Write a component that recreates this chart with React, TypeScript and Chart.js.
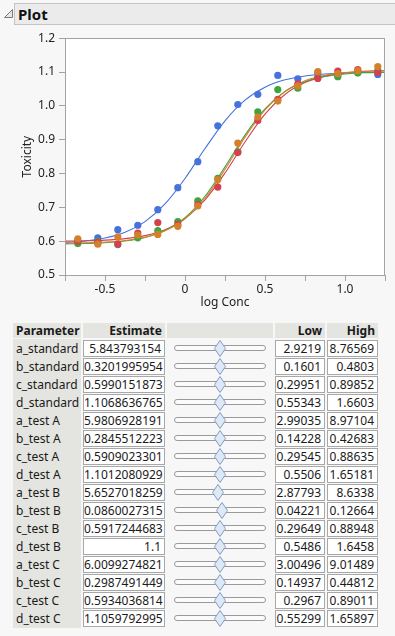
import React, { useEffect, useRef } from "react";
import { Chart, registerables } from "chart.js";
Chart.register(...registerables);

// ---------- data ----------
const doseX = [-0.67, -0.545, -0.42, -0.295, -0.17, -0.045, 0.08, 0.205, 0.33, 0.455, 0.58, 0.705, 0.83, 0.955, 1.08, 1.205];
const ptsStandard = [0.600, 0.597, 0.592, 0.624, 0.655, 0.650, 0.708, 0.760, 0.862, 0.957, 1.019, 1.065, 1.081, 1.103, 1.107, 1.099];
const ptsTestA = [0.593, 0.600, 0.590, 0.610, 0.631, 0.658, 0.719, 0.786, 0.864, 0.982, 1.048, 1.052, 1.085, 1.086, 1.097, 1.105];
const ptsTestB = [0.600, 0.610, 0.634, 0.647, 0.693, 0.758, 0.835, 0.941, 1.004, 1.034, 1.090, 1.080, 1.097, 1.090, 1.100, 1.093];
const ptsTestC = [0.607, 0.591, 0.613, 0.618, 0.620, 0.644, 0.704, 0.782, 0.890, 0.967, 1.014, 1.059, 1.101, 1.095, 1.104, 1.116];

const curveX = [-0.75, -0.625, -0.5, -0.375, -0.25, -0.125, 0, 0.125, 0.25, 0.375, 0.5, 0.625, 0.75, 0.875, 1.0, 1.125, 1.25];
const curveStandard = [0.600, 0.601, 0.603, 0.6076, 0.6165, 0.6341, 0.6668, 0.7220, 0.8016, 0.8933, 0.9753, 1.0337, 1.0688, 1.0878, 1.0975, 1.1023, 1.1047];
const curveTestA = [0.5920, 0.5931, 0.5955, 0.6006, 0.6109, 0.6315, 0.6696, 0.7328, 0.8197, 0.9134, 0.9909, 1.0423, 1.0715, 1.0867, 1.0942, 1.0979, 1.0996];
const curveTestB = [0.5962, 0.6007, 0.6096, 0.6267, 0.6579, 0.7100, 0.7853, 0.8738, 0.9559, 1.0170, 1.0553, 1.0769, 1.0884, 1.0942, 1.0971, 1.0986, 1.0993];
const curveTestC = [0.5943, 0.5954, 0.5976, 0.6022, 0.6117, 0.6307, 0.6664, 0.7269, 0.8125, 0.9075, 0.9882, 1.0428, 1.0741, 1.0904, 1.0985, 1.1024, 1.1043];

const paramNames = ["a_standard", "b_standard", "c_standard", "d_standard", "a_test A", "b_test A", "c_test A", "d_test A", "a_test B", "b_test B", "c_test B", "d_test B", "a_test C", "b_test C", "c_test C", "d_test C"];
const estimates = ["5.843793154", "0.3201995954", "0.5990151873", "1.1068636765", "5.9806928191", "0.2845512223", "0.5909023301", "1.1012080929", "5.6527018259", "0.0860027315", "0.5917244683", "1.1", "6.0099274821", "0.2987491449", "0.5934036814", "1.1059792995"];
const lows = ["2.9219", "0.1601", "0.29951", "0.55343", "2.99035", "0.14228", "0.29545", "0.5506", "2.87793", "0.04221", "0.29649", "0.5486", "3.00496", "0.14937", "0.2967", "0.55299"];
const highs = ["8.76569", "0.4803", "0.89852", "1.6603", "8.97104", "0.42683", "0.88635", "1.65181", "8.6338", "0.12664", "0.88948", "1.6458", "9.01489", "0.44812", "0.89011", "1.65897"];

const yTicksMin = 0.5;
const yTicksMax = 1.2;
const xMin = -0.75;
const xMax = 1.25;

const BLUE = "#4572DC";
const RED = "#D4404F";
const GREEN = "#3FA43F";
const ORANGE = "#D4802B";

const FONT = "'Segoe UI', 'Noto Sans', sans-serif";

function toXY(xs: number[], ys: number[]) {
  return xs.map((x, i) => ({ x, y: ys[i] }));
}

const framePlugin = {
  id: "frame",
  beforeDraw(chart: any) {
    const { ctx, chartArea } = chart;
    ctx.save();
    ctx.fillStyle = "#ffffff";
    ctx.fillRect(chartArea.left, chartArea.top, chartArea.right - chartArea.left, chartArea.bottom - chartArea.top);
    ctx.restore();
  },
  afterDraw(chart: any) {
    const { ctx, chartArea } = chart;
    ctx.save();
    ctx.strokeStyle = "#a3a3a3";
    ctx.lineWidth = 1;
    ctx.strokeRect(Math.round(chartArea.left) + 0.5, Math.round(chartArea.top) + 0.5, Math.round(chartArea.right - chartArea.left) - 1, Math.round(chartArea.bottom - chartArea.top));
    ctx.restore();
  },
};

function PlotChart() {
  const ref = useRef<HTMLCanvasElement | null>(null);
  useEffect(() => {
    if (!ref.current) return;
    const pointDs = (label: string, ys: number[], color: string) => ({
      label,
      data: toXY(doseX, ys),
      showLine: false,
      pointRadius: 3.6,
      pointBorderWidth: 0,
      pointBackgroundColor: color,
      pointBorderColor: color,
      borderColor: color,
      backgroundColor: color,
    });
    const lineDs = (label: string, ys: number[], color: string) => ({
      label,
      data: toXY(curveX, ys),
      showLine: true,
      pointRadius: 0,
      borderWidth: 1.1,
      borderColor: color,
      backgroundColor: color,
      cubicInterpolationMode: "monotone" as const,
      fill: false,
    });
    const chart = new Chart(ref.current, {
      type: "line",
      data: {
        datasets: [
          pointDs("test C", ptsTestC, ORANGE),
          pointDs("standard", ptsStandard, RED),
          pointDs("test A", ptsTestA, GREEN),
          pointDs("test B", ptsTestB, BLUE),
          lineDs("test C fit", curveTestC, ORANGE),
          lineDs("test A fit", curveTestA, GREEN),
          lineDs("standard fit", curveStandard, RED),
          lineDs("test B fit", curveTestB, BLUE),
        ] as any,
      },
      options: {
        animation: false,
        responsive: false,
        devicePixelRatio: 1,
        layout: { padding: { top: 8, right: 10, left: 0, bottom: 0 } },
        plugins: { legend: { display: false }, tooltip: { enabled: false } },
        scales: {
          x: {
            type: "linear",
            min: xMin,
            max: xMax,
            afterFit: (s: any) => { s.height = 44; },
            border: { display: false },
            grid: { drawOnChartArea: false, drawTicks: true, tickLength: 6, color: "#a3a3a3" },
            ticks: {
              stepSize: 0.25,
              autoSkip: false,
              maxRotation: 0,
              padding: 1,
              color: "#222",
              font: { family: FONT, size: 12 },
              callback: (value: any) => {
                const v = Number(value);
                if (Math.abs(v * 2 - Math.round(v * 2)) > 1e-6) return "";
                if (Math.abs(v) < 1e-9) return "0";
                return v.toFixed(1);
              },
            },
            title: { display: true, text: "log Conc", color: "#222", font: { family: FONT, size: 12 }, padding: { top: 0, bottom: 9 } },
          },
          y: {
            type: "linear",
            min: yTicksMin,
            max: yTicksMax,
            afterFit: (s: any) => { s.width = 65; },
            border: { display: false },
            grid: { drawOnChartArea: false, drawTicks: true, tickLength: 6, color: "#a3a3a3" },
            ticks: {
              stepSize: 0.1,
              padding: 4,
              color: "#222",
              font: { family: FONT, size: 12 },
              callback: (value: any) => Number(value).toFixed(1),
            },
            title: { display: true, text: "Toxicity", color: "#222", font: { family: FONT, size: 12 }, padding: { top: 20, bottom: 0 } },
          },
        },
      },
      plugins: [framePlugin],
    });
    return () => chart.destroy();
  }, []);
  return (
    <canvas
      ref={ref}
      width={395}
      height={292}
      style={{ position: "absolute", left: 0, top: 27, width: 395, height: 292 }}
    />
  );
}

const HEADER_BG = "#e4e4e0";
const CELL_BORDER = "1px solid #a8a8a8";

function Slider({ frac }: { frac: number }) {
  const left = 174;
  const w = 92;
  const cx = left + w * frac;
  return (
    <>
      <div
        style={{
          position: "absolute",
          left,
          top: 5,
          width: w,
          height: 6,
          border: "1px solid #9a9a9a",
          borderRadius: 4,
          background: "#fbfbfb",
          boxSizing: "border-box",
        }}
      />
      <svg style={{ position: "absolute", left: cx - 6, top: 0, overflow: "visible" }} width={12} height={17}>
        <polygon points="6,0.5 11.5,8.5 6,16.5 0.5,8.5" fill="#dfe9f6" stroke="#7f9cc4" strokeWidth={1} />
      </svg>
    </>
  );
}

function ParamTable() {
  const top0 = 323;
  const rowTop = 340;
  const pitch = 18;
  const textStyle: React.CSSProperties = { fontFamily: FONT, fontSize: 12, color: "#1a1a1a", lineHeight: "17px", whiteSpace: "nowrap" };
  const hdr = (left: number, width: number, text: string, align: "left" | "right") => (
    <div
      style={{
        position: "absolute",
        left,
        top: top0,
        width,
        height: 15,
        background: HEADER_BG,
        ...textStyle,
        lineHeight: "15px",
        fontWeight: 700,
        textAlign: align,
        boxSizing: "border-box",
        paddingLeft: align === "left" ? 3 : 0,
        paddingRight: align === "right" ? 3 : 0,
      }}
    >
      {text}
    </div>
  );
  const box = (left: number, width: number, text: string) => (
    <div
      style={{
        position: "absolute",
        left,
        top: 0,
        width,
        height: 17,
        background: "#fff",
        border: CELL_BORDER,
        boxSizing: "border-box",
        ...textStyle,
        lineHeight: "15px",
        textAlign: "right",
        paddingRight: 3,
      }}
    >
      {text}
    </div>
  );
  return (
    <>
      {hdr(13, 68, "Parameter", "left")}
      {hdr(83, 82, "Estimate", "right")}
      {hdr(167, 106, "", "right")}
      {hdr(275, 50, "Low", "right")}
      {hdr(327, 51, "High", "right")}
      <div style={{ position: "absolute", left: 13, top: 339, width: 68, height: 289, background: HEADER_BG }} />
      {paramNames.map((name, i) => {
        const est = parseFloat(estimates[i]);
        const lo = parseFloat(lows[i]);
        const hi = parseFloat(highs[i]);
        const frac = (est - lo) / (hi - lo);
        return (
          <div key={name} style={{ position: "absolute", left: 0, top: rowTop + pitch * i, width: 395, height: 17 }}>
            <div style={{ position: "absolute", left: 16, top: 0, ...textStyle }}>{name}</div>
            {box(83, 82, estimates[i])}
            <Slider frac={frac} />
            {box(275, 50, lows[i])}
            {box(327, 51, highs[i])}
          </div>
        );
      })}
    </>
  );
}

export default function App() {
  return (
    <div
      style={{
        position: "absolute",
        left: 0,
        top: 0,
        width: 395,
        height: 636,
        background: "#f7f7f7",
        overflow: "hidden",
        fontFamily: FONT,
      }}
    >
      <svg style={{ position: "absolute", left: 0, top: 0 }} width={14} height={26}>
        <polygon points="4.5,17.5 12.5,17.5 12.5,9.5" fill="#e6e6e6" stroke="#7a7a7a" strokeWidth={1} />
      </svg>
      <div
        style={{
          position: "absolute",
          left: 14,
          top: 3,
          width: 395,
          height: 22,
          background: "#ebebeb",
          border: "1px solid #c4c4c4",
          boxSizing: "border-box",
        }}
      />
      <div style={{ position: "absolute", left: 18, top: 3, height: 22, lineHeight: "22px", fontFamily: FONT, fontWeight: 700, fontSize: 15, color: "#111" }}>
        Plot
      </div>
      <PlotChart />
      <ParamTable />
    </div>
  );
}
